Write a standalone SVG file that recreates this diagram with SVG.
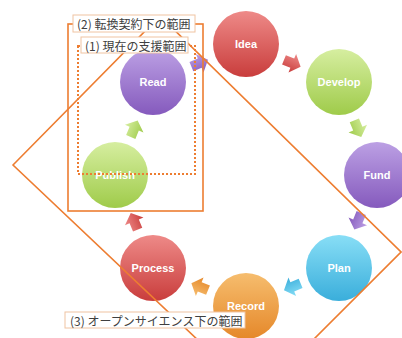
<svg xmlns="http://www.w3.org/2000/svg" width="402" height="338" viewBox="0 0 402 338">
<defs>
<linearGradient id="gRed" x1="0" y1="0" x2="0" y2="1"><stop offset="0" stop-color="#ee8a88"/><stop offset="1" stop-color="#c93d3c"/></linearGradient>
<linearGradient id="gGreen" x1="0" y1="0" x2="0" y2="1"><stop offset="0" stop-color="#d6eea0"/><stop offset="1" stop-color="#9fcb4a"/></linearGradient>
<linearGradient id="gPurple" x1="0" y1="0" x2="0" y2="1"><stop offset="0" stop-color="#bca0e4"/><stop offset="1" stop-color="#855abd"/></linearGradient>
<linearGradient id="gCyan" x1="0" y1="0" x2="0" y2="1"><stop offset="0" stop-color="#88def6"/><stop offset="1" stop-color="#3aaedb"/></linearGradient>
<linearGradient id="gOrange" x1="0" y1="0" x2="0" y2="1"><stop offset="0" stop-color="#f6bd6e"/><stop offset="1" stop-color="#e5882a"/></linearGradient>
<polygon id="arr" points="-9,-5 0,-5 0,-10 9,0 0,10 0,5 -9,5"/>
</defs>
<style>
.node text{font-family:"Liberation Sans",Arial,sans-serif;font-size:11px;font-weight:bold;fill:#ffffff;text-anchor:middle;dominant-baseline:central}
.region{fill:none;stroke:#ed7d31;stroke-width:1.6}
.dotted{fill:none;stroke:#ed7d31;stroke-width:2;stroke-dasharray:2 2}
.lbl rect{fill:#ffffff;stroke:#f0c4a2;stroke-width:1}
.lbl text{font-family:"Noto Sans CJK JP","Noto Sans",sans-serif;font-size:12px;fill:#404040;dominant-baseline:central}
</style>
<rect width="402" height="338" fill="#ffffff"/>
<g id="nodes">
<g id="node-idea" class="node"><circle cx="246" cy="44" r="33" fill="url(#gRed)"/><text x="246" y="44">Idea</text></g>
<g id="node-develop" class="node"><circle cx="339" cy="82" r="33" fill="url(#gGreen)"/><text x="339" y="82">Develop</text></g>
<g id="node-fund" class="node"><circle cx="377" cy="175" r="33" fill="url(#gPurple)"/><text x="377" y="175">Fund</text></g>
<g id="node-plan" class="node"><circle cx="339" cy="268" r="33" fill="url(#gCyan)"/><text x="339" y="268">Plan</text></g>
<g id="node-record" class="node"><circle cx="246" cy="306" r="33" fill="url(#gOrange)"/><text x="246" y="306">Record</text></g>
<g id="node-process" class="node"><circle cx="153" cy="268" r="33" fill="url(#gRed)"/><text x="153" y="268">Process</text></g>
<g id="node-publish" class="node"><circle cx="115" cy="175" r="33" fill="url(#gGreen)"/><text x="115" y="175">Publish</text></g>
<g id="node-read" class="node"><circle cx="153" cy="82" r="33" fill="url(#gPurple)"/><text x="153" y="82">Read</text></g>
</g>
<g id="connectors">
<use href="#arr" fill="url(#gRed)" transform="translate(292.3,63.2) rotate(22.5)"/>
<use href="#arr" fill="url(#gGreen)" transform="translate(357.8,128.7) rotate(67.5)"/>
<use href="#arr" fill="url(#gPurple)" transform="translate(357.8,221.3) rotate(112.5)"/>
<use href="#arr" fill="url(#gCyan)" transform="translate(292.3,286.8) rotate(157.5)"/>
<use href="#arr" fill="url(#gOrange)" transform="translate(199.7,286.8) rotate(202.5)"/>
<use href="#arr" fill="url(#gRed)" transform="translate(134.2,221.3) rotate(247.5)"/>
<use href="#arr" fill="url(#gGreen)" transform="translate(134.2,128.7) rotate(292.5)"/>
<use href="#arr" fill="url(#gPurple)" transform="translate(199.7,63.2) rotate(337.5)"/>
</g>
<g id="regions">
<polygon class="region" points="13,165 160,16 401,252 257,396"/>
<rect class="region" x="68" y="24" width="135" height="187"/>
<rect class="dotted" x="78" y="46" width="117" height="128"/>
</g>
<g id="labels">
<g id="label-2" class="lbl"><rect x="73" y="15" width="122" height="17"/><text x="77" y="23.5">(2) 転換契約下の範囲</text></g>
<g id="label-1" class="lbl"><rect x="81" y="37" width="107" height="16"/><text x="85" y="45">(1) 現在の支援範囲</text></g>
<g id="label-3" class="lbl"><rect x="65" y="312" width="180" height="16"/><text x="70" y="320">(3) オープンサイエンス下の範囲</text></g>
</g>
</svg>
